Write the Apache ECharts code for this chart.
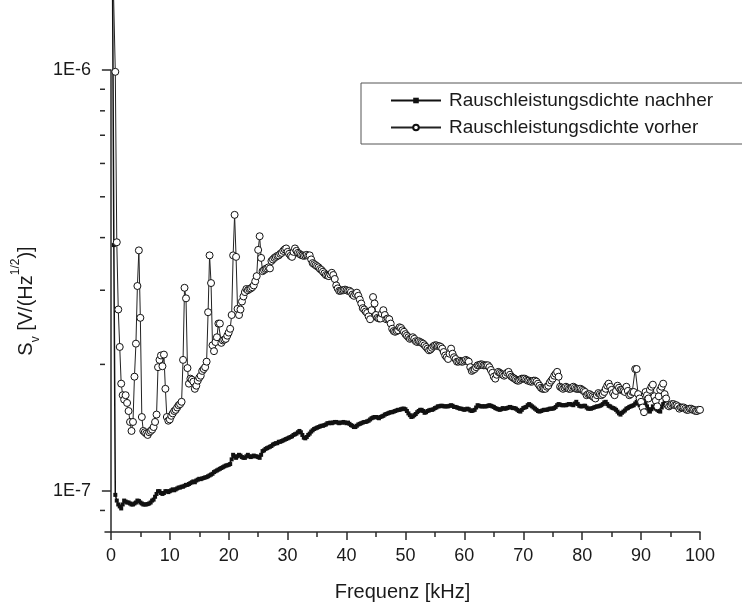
<!DOCTYPE html>
<html><head><meta charset="utf-8">
<script src="https://cdn.jsdelivr.net/npm/echarts@6/dist/echarts.min.js"></script>
<style>html,body{margin:0;padding:0;background:#fff}#c{width:742px;height:607px}</style>
</head><body><div id="c"></div>
<script>
// values in units of 1e-7 V/(Hz^1/2); one sample every 0.25 kHz from 0.25 kHz to 100 kHz
const UNIT = 1e-7;
const FREQ_STEP_KHZ = 0.25;
const seriesNames = ['Rauschleistungsdichte nachher', 'Rauschleistungsdichte vorher'];
const nachher = [
20, 3.84, 0.98, 0.95, 0.93, 0.92, 0.91, 0.93,
0.95, 0.945, 0.94, 0.94, 0.935, 0.93, 0.93, 0.935,
0.94, 0.95, 0.948, 0.94, 0.935, 0.93, 0.93, 0.93,
0.932, 0.935, 0.94, 0.95, 0.955, 0.97, 0.985, 1.0,
1.0, 0.99, 0.985, 0.99, 1.0, 1.0, 0.995, 1.0,
1.005, 1.01, 1.005, 1.01, 1.015, 1.02, 1.02, 1.025,
1.025, 1.03, 1.035, 1.035, 1.04, 1.045, 1.05, 1.055,
1.05, 1.06, 1.065, 1.07, 1.068, 1.072, 1.075, 1.078,
1.08, 1.085, 1.09, 1.095, 1.10, 1.11, 1.115, 1.12,
1.125, 1.13, 1.135, 1.14, 1.145, 1.15, 1.152, 1.155,
1.16, 1.19, 1.22, 1.21, 1.20, 1.21, 1.22, 1.215,
1.205, 1.20, 1.20, 1.21, 1.22, 1.21, 1.205, 1.21,
1.215, 1.21, 1.21, 1.205, 1.20, 1.22, 1.245, 1.25,
1.26, 1.265, 1.27, 1.275, 1.28, 1.29, 1.295, 1.30,
1.30, 1.31, 1.31, 1.315, 1.32, 1.325, 1.33, 1.335,
1.34, 1.345, 1.35, 1.36, 1.365, 1.37, 1.38, 1.39,
1.38, 1.36, 1.34, 1.335, 1.345, 1.36, 1.37, 1.385,
1.395, 1.405, 1.41, 1.415, 1.42, 1.425, 1.43, 1.43,
1.435, 1.44, 1.45, 1.45, 1.455, 1.45, 1.455, 1.46,
1.46, 1.455, 1.45, 1.455, 1.455, 1.46, 1.455, 1.45,
1.455, 1.445, 1.435, 1.43, 1.42, 1.42, 1.43, 1.44,
1.445, 1.45, 1.455, 1.46, 1.46, 1.465, 1.47, 1.48,
1.49, 1.495, 1.50, 1.50, 1.495, 1.49, 1.50, 1.505,
1.51, 1.52, 1.525, 1.53, 1.535, 1.54, 1.54, 1.545,
1.55, 1.555, 1.56, 1.56, 1.565, 1.57, 1.57, 1.565,
1.55, 1.53, 1.515, 1.50, 1.505, 1.515, 1.525, 1.54,
1.55, 1.56, 1.56, 1.55, 1.535, 1.54, 1.55, 1.555,
1.56, 1.56, 1.565, 1.575, 1.58, 1.59, 1.59, 1.595,
1.595, 1.59, 1.59, 1.59, 1.59, 1.595, 1.60, 1.595,
1.585, 1.585, 1.58, 1.575, 1.57, 1.57, 1.565, 1.56,
1.565, 1.57, 1.565, 1.555, 1.55, 1.555, 1.56, 1.58,
1.60, 1.595, 1.59, 1.59, 1.59, 1.59, 1.59, 1.595,
1.60, 1.595, 1.59, 1.585, 1.575, 1.57, 1.565, 1.56,
1.565, 1.575, 1.57, 1.57, 1.575, 1.58, 1.585, 1.58,
1.575, 1.575, 1.57, 1.56, 1.55, 1.545, 1.56, 1.575,
1.58, 1.585, 1.60, 1.61, 1.60, 1.59, 1.58, 1.57,
1.56, 1.55, 1.545, 1.55, 1.555, 1.56, 1.56, 1.56,
1.565, 1.57, 1.57, 1.57, 1.575, 1.585, 1.60, 1.61,
1.605, 1.60, 1.60, 1.60, 1.60, 1.605, 1.61, 1.61,
1.605, 1.60, 1.615, 1.63, 1.61, 1.595, 1.59, 1.59,
1.595, 1.595, 1.58, 1.57, 1.57, 1.57, 1.575, 1.58,
1.585, 1.59, 1.59, 1.595, 1.60, 1.61, 1.625, 1.63,
1.61, 1.595, 1.59, 1.58, 1.575, 1.57, 1.56, 1.545,
1.53, 1.52, 1.535, 1.545, 1.555, 1.57, 1.575, 1.585,
1.59, 1.595, 1.60, 1.615, 1.63, 1.615, 1.60, 1.62,
1.635, 1.64, 1.61, 1.59, 1.565, 1.545, 1.565, 1.59,
1.58, 1.57, 1.56, 1.55, 1.545, 1.58, 1.61, 1.625,
1.63, 1.61, 1.59, 1.595, 1.60, 1.60, 1.595, 1.59,
1.59, 1.585, 1.58, 1.575, 1.57, 1.565, 1.56, 1.56,
1.56, 1.558, 1.555, 1.555, 1.56, 1.56, 1.555, 1.555
];
const vorher = [
20, 20, 9.9, 3.9, 2.7, 2.2, 1.8, 1.69,
1.65, 1.69, 1.62, 1.55, 1.46, 1.39, 1.46, 1.87,
2.24, 3.07, 3.73, 2.58, 1.50, 1.39, 1.38, 1.37,
1.36, 1.38, 1.39, 1.40, 1.42, 1.46, 1.52, 1.97,
2.05, 2.10, 1.98, 2.11, 1.75, 1.50, 1.47, 1.48,
1.51, 1.53, 1.55, 1.56, 1.58, 1.60, 1.61, 1.63,
2.05, 3.04, 2.87, 1.96, 1.80, 1.85, 1.84, 1.82,
1.75, 1.78, 1.83, 1.86, 1.88, 1.93, 1.95, 1.97,
2.03, 2.66, 3.63, 3.12, 2.22, 2.15, 2.26, 2.32,
2.50, 2.50, 2.25, 2.28, 2.29, 2.30, 2.34, 2.38,
2.43, 2.62, 3.63, 4.53, 3.60, 2.71, 2.62, 2.70,
2.82, 2.90, 2.97, 3.02, 3.00, 3.02, 3.03, 3.05,
3.08, 3.15, 3.24, 3.74, 4.03, 3.58, 3.33, 3.35,
3.37, 3.38, 3.40, 3.38, 3.52, 3.55, 3.58, 3.60,
3.62, 3.63, 3.66, 3.68, 3.72, 3.75, 3.77, 3.70,
3.66, 3.62, 3.60, 3.70, 3.77, 3.72, 3.68, 3.66,
3.64, 3.63, 3.62, 3.63, 3.64, 3.62, 3.63, 3.55,
3.48, 3.46, 3.44, 3.42, 3.40, 3.37, 3.35, 3.32,
3.29, 3.26, 3.25, 3.24, 3.27, 3.30, 3.26, 3.19,
3.08, 3.03, 2.99, 2.99, 3.00, 3.00, 3.01, 3.00,
2.99, 2.99, 2.97, 2.93, 2.91, 2.94, 2.96, 2.91,
2.85, 2.79, 2.72, 2.70, 2.67, 2.65, 2.60, 2.56,
2.69, 2.89, 2.79, 2.62, 2.58, 2.57, 2.57, 2.64,
2.69, 2.62, 2.56, 2.57, 2.56, 2.50, 2.43, 2.40,
2.39, 2.40, 2.41, 2.45, 2.44, 2.41, 2.39, 2.36,
2.34, 2.32, 2.30, 2.31, 2.32, 2.30, 2.27, 2.26,
2.27, 2.26, 2.25, 2.24, 2.22, 2.20, 2.18, 2.16,
2.17, 2.19, 2.21, 2.22, 2.22, 2.21, 2.21, 2.20,
2.18, 2.14, 2.10, 2.08, 2.06, 2.12, 2.18, 2.12,
2.08, 2.06, 2.03, 2.03, 2.04, 2.03, 2.03, 2.04,
2.05, 2.04, 2.03, 1.97, 1.93, 1.94, 1.95, 1.97,
1.99, 1.99, 2.00, 2.00, 1.99, 1.99, 1.99, 1.99,
1.97, 1.94, 1.91, 1.87, 1.85, 1.89, 1.92, 1.91,
1.90, 1.89, 1.88, 1.89, 1.91, 1.92, 1.89, 1.87,
1.86, 1.85, 1.84, 1.83, 1.83, 1.84, 1.85, 1.85,
1.85, 1.84, 1.83, 1.83, 1.82, 1.82, 1.83, 1.83,
1.82, 1.80, 1.78, 1.76, 1.75, 1.75, 1.75, 1.77,
1.78, 1.81, 1.83, 1.85, 1.88, 1.90, 1.92, 1.87,
1.77, 1.76, 1.75, 1.76, 1.77, 1.76, 1.75, 1.75,
1.76, 1.77, 1.76, 1.75, 1.75, 1.75, 1.75, 1.74,
1.73, 1.72, 1.69, 1.70, 1.70, 1.69, 1.68, 1.67,
1.66, 1.69, 1.71, 1.70, 1.69, 1.70, 1.72, 1.75,
1.78, 1.80, 1.77, 1.74, 1.71, 1.69, 1.73, 1.78,
1.76, 1.74, 1.74, 1.73, 1.72, 1.77, 1.73, 1.69,
1.70, 1.72, 1.72, 1.95, 1.95, 1.70, 1.66, 1.63,
1.58, 1.54, 1.72, 1.69, 1.66, 1.74, 1.77, 1.79,
1.68, 1.64, 1.59, 1.68, 1.74, 1.77, 1.80, 1.70,
1.66, 1.60, 1.59, 1.60, 1.61, 1.61, 1.60, 1.60,
1.59, 1.57, 1.58, 1.58, 1.58, 1.57, 1.56, 1.56,
1.57, 1.57, 1.56, 1.56, 1.55, 1.55, 1.56, 1.56
];
const X_MIN = -1, X_MAX = 100;
const Y_MIN = 8e-8, Y_MAX = 1e-6;
const xMajorTicks = [0, 10, 20, 30, 40, 50, 60, 70, 80, 90, 100];
const xMinorTicks = [5, 15, 25, 35, 45, 55, 65, 75, 85, 95];
const yMajorTicks = [1e-7, 1e-6];
const yMinorTicks = [9e-8, 2e-7, 3e-7, 4e-7, 5e-7, 6e-7, 7e-7, 8e-7, 9e-7];

const FONT = "'Liberation Sans', Arial, Helvetica, sans-serif";
const TXT = '#1a1a1a';
const AX = '#2a2a2a';

function toPairs(arr) { return arr.map((v, i) => [(i + 1) * FREQ_STEP_KHZ, v * UNIT]); }

const chart = echarts.init(document.getElementById('c'), null, {renderer: 'canvas'});
const common = {min: X_MIN, max: X_MAX, type: 'value', splitLine: {show: false}};
chart.setOption({
  animation: false,
  backgroundColor: '#fff',
  grid: {left: 105, right: 42, top: 70, bottom: 74, containLabel: false},
  legend: {
    orient: 'vertical', left: 361, top: 83,
    data: seriesNames,
    itemWidth: 50, itemHeight: 7, itemGap: 8,
    padding: [8, 40, 7, 29],
    borderColor: '#555', borderWidth: 1,
    textStyle: {fontFamily: FONT, fontSize: 19, color: TXT, padding: [0, 0, 0, 3]},
    selectedMode: false
  },
  xAxis: [
    Object.assign({}, common, {
      position: 'bottom',
      name: 'Frequenz [kHz]', nameLocation: 'middle', nameGap: 50,
      nameTextStyle: {fontFamily: FONT, fontSize: 20, color: TXT},
      axisLine: {show: true, lineStyle: {color: AX, width: 1.5}},
      axisTick: {show: true, inside: false, length: 8, customValues: xMajorTicks, lineStyle: {color: AX, width: 1.5}},
      axisLabel: {show: true, customValues: xMajorTicks, margin: 15, fontFamily: FONT, fontSize: 18, color: TXT}
    }),
    Object.assign({}, common, {
      position: 'bottom',
      axisLine: {show: false},
      axisTick: {show: true, inside: false, length: 5, customValues: xMinorTicks, lineStyle: {color: AX, width: 1.5}},
      axisLabel: {show: false}
    })
  ],
  yAxis: [
    {
      type: 'log', logBase: 10, min: Y_MIN, max: Y_MAX, position: 'left',
      splitLine: {show: false},
      name: '{a|S}{b|v}{a| [V/(Hz}{c|1/2}{a|)]}', nameLocation: 'middle', nameGap: 62, nameRotate: 90,
      nameTextStyle: {
        fontFamily: FONT, fontSize: 20, color: TXT,
        rich: {
          a: {fontFamily: FONT, fontSize: 20, color: TXT, lineHeight: 32, verticalAlign: 'middle'},
          b: {fontFamily: FONT, fontSize: 12, color: TXT, lineHeight: 13, verticalAlign: 'bottom'},
          c: {fontFamily: FONT, fontSize: 12, color: TXT, lineHeight: 13, verticalAlign: 'top'}
        }
      },
      axisLine: {show: true, lineStyle: {color: AX, width: 1.5}},
      axisTick: {show: true, inside: false, length: 9, customValues: yMajorTicks, lineStyle: {color: AX, width: 1.5}},
      axisLabel: {show: true, customValues: yMajorTicks, margin: 14, fontFamily: FONT, fontSize: 18, color: TXT,
        formatter: v => '1E' + Math.round(Math.log10(v))}
    }
  ],
  series: [
    {
      name: seriesNames[0], type: 'line', xAxisIndex: 0, yAxisIndex: 0,
      data: toPairs(nachher), clip: false, silent: true,
      symbol: 'rect', symbolSize: 4, showSymbol: true, showAllSymbol: true,
      itemStyle: {color: '#111'},
      lineStyle: {color: '#111', width: 1.5}
    },
    {
      name: seriesNames[1], type: 'line', xAxisIndex: 0, yAxisIndex: 0,
      data: toPairs(vorher), clip: false, silent: true,
      symbol: 'circle', symbolSize: 7, showSymbol: true, showAllSymbol: true,
      itemStyle: {color: '#fff', borderColor: '#111', borderWidth: 1},
      lineStyle: {color: '#222', width: 1}
    },
    {
      name: 'yMinorTicks', type: 'custom', xAxisIndex: 0, yAxisIndex: 0,
      data: yMinorTicks.map(v => [X_MIN, v]), encode: {x: 0, y: 1},
      clip: false, silent: true,
      renderItem: (params, api) => {
        const p = api.coord([api.value(0), api.value(1)]);
        return {type: 'line', shape: {x1: p[0] - 5, y1: p[1], x2: p[0], y2: p[1]},
                style: {stroke: AX, lineWidth: 1.5}};
      }
    }
  ]
});
</script></body></html>
